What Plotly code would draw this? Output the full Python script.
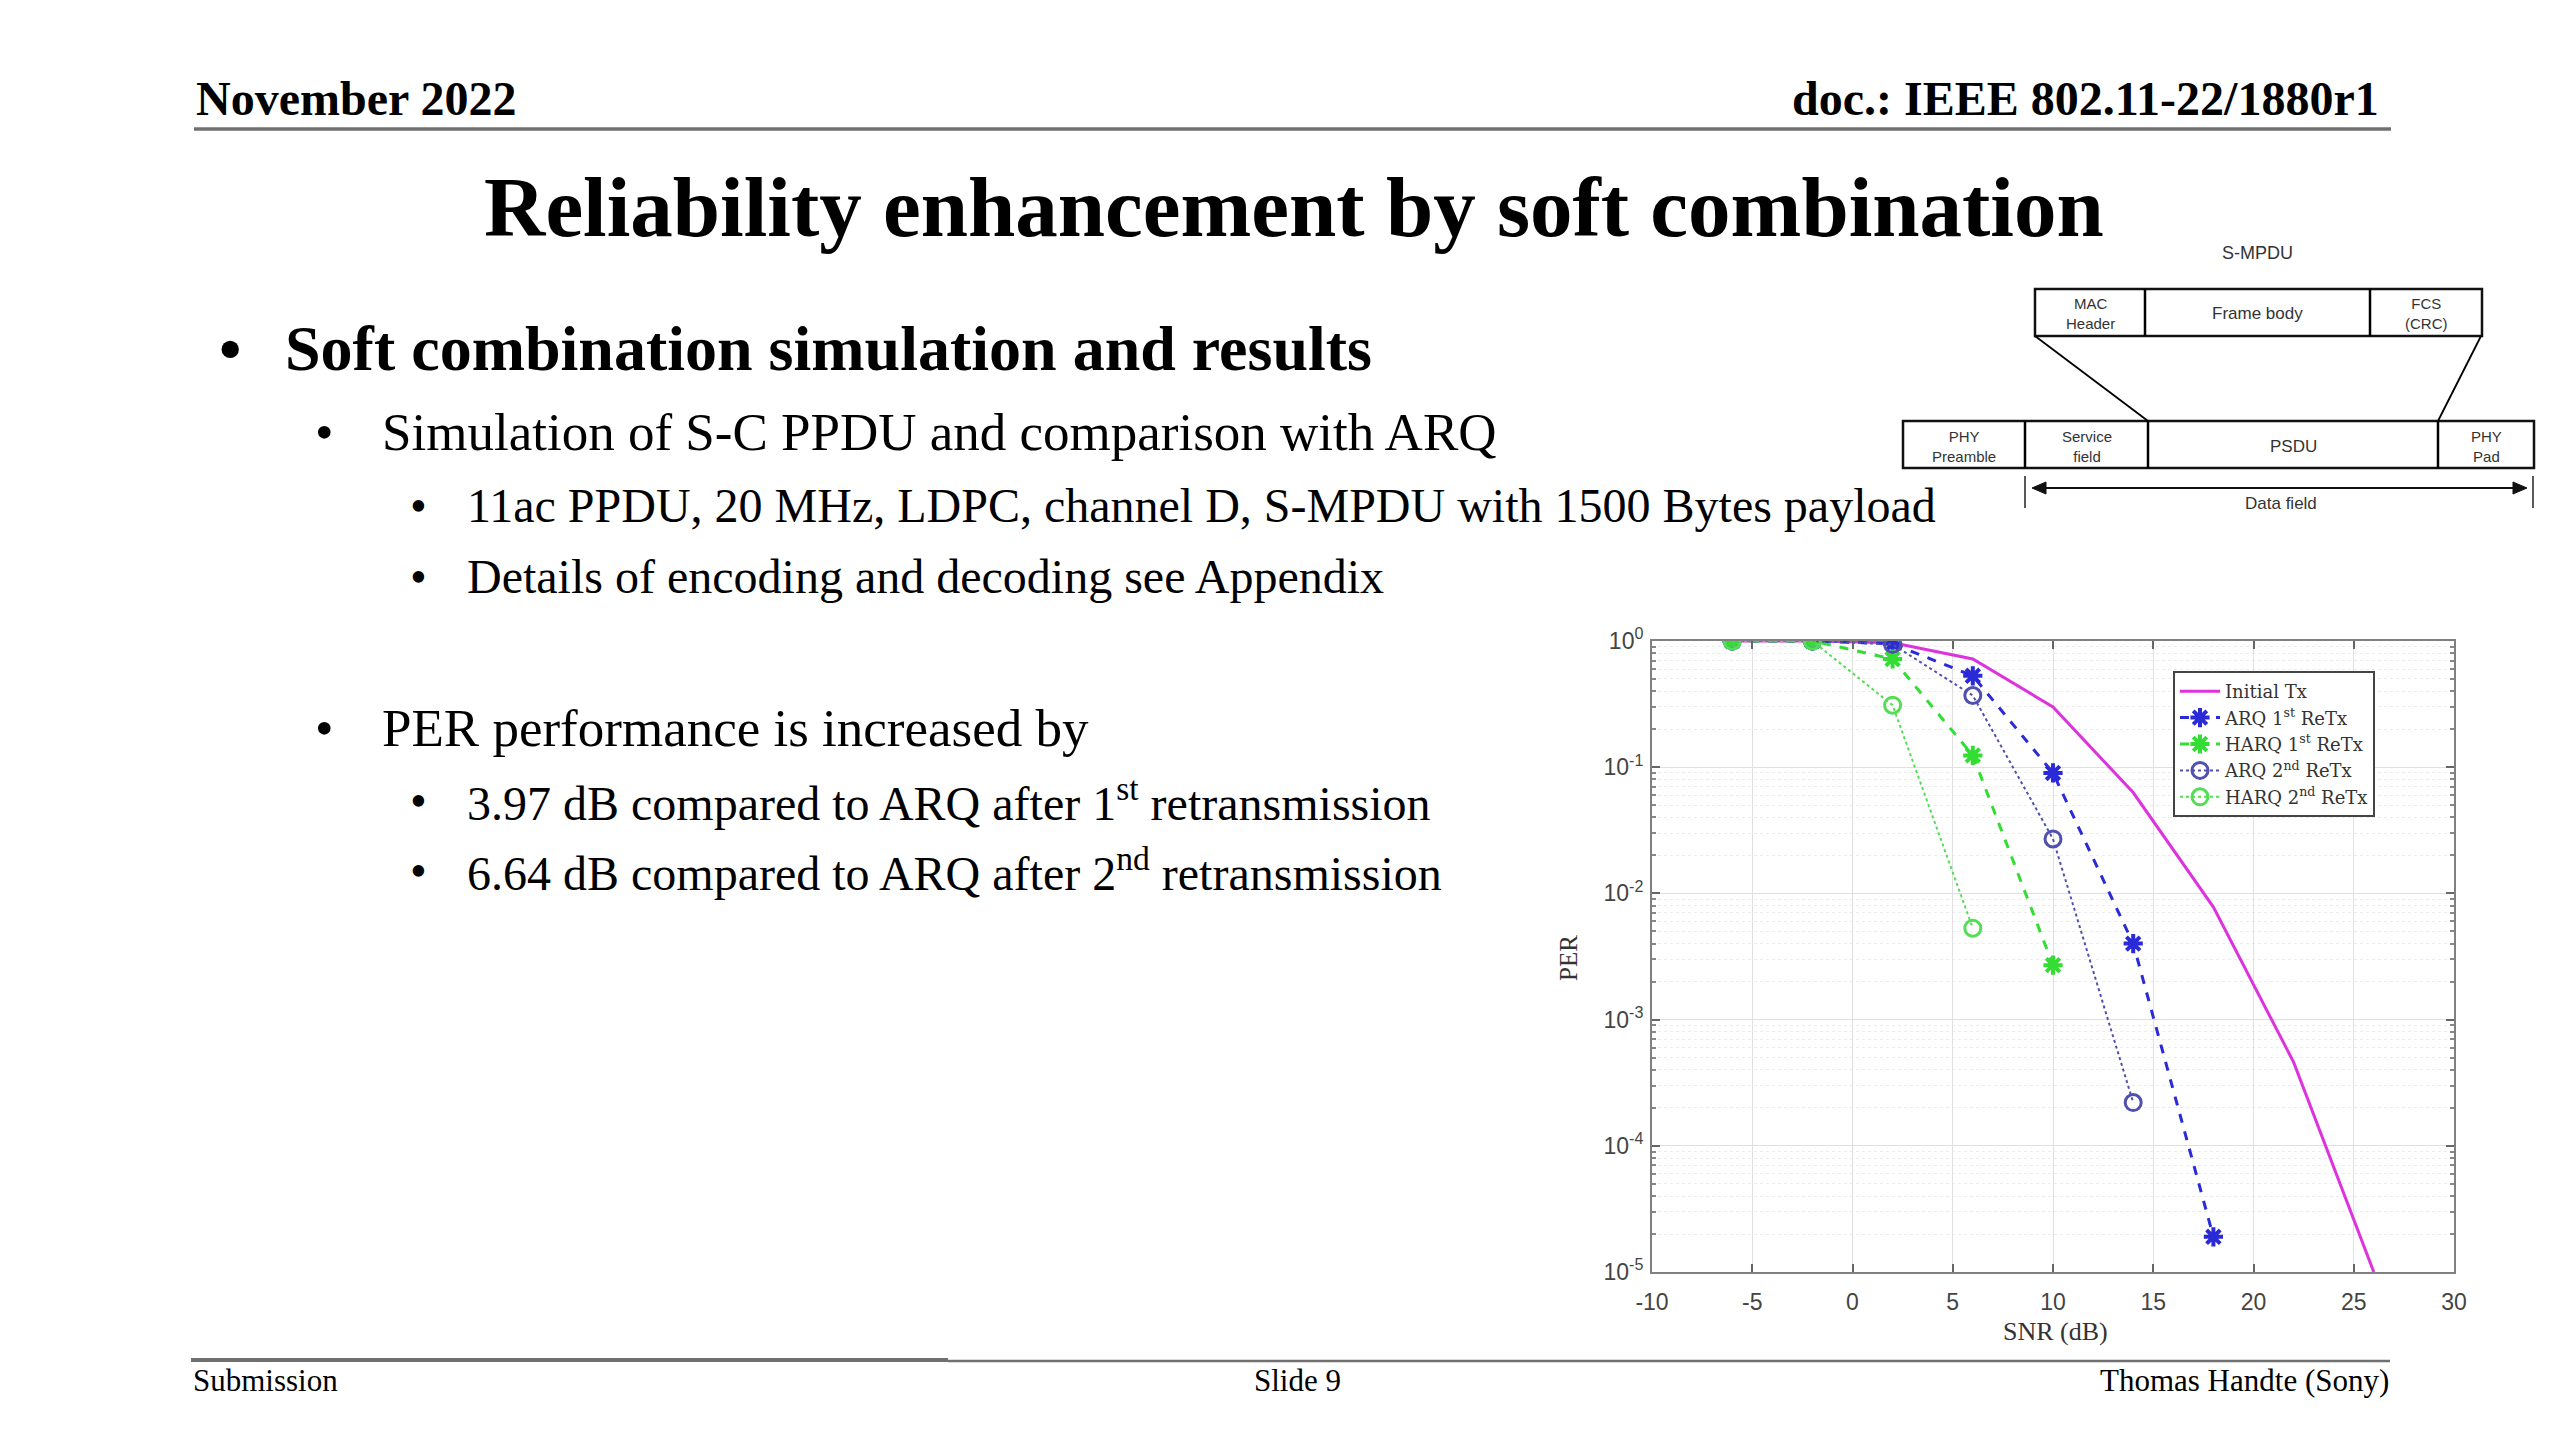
import plotly.graph_objects as go

# ---------------- data ----------------
snr_initial = [-6, -2, 2, 6, 10, 14, 18, 22, 26]
per_initial = [1.0, 1.0, 0.97, 0.72, 0.30, 0.063, 0.0078, 4.6e-4, 1.0e-5]

snr_arq1 = [-6, -2, 2, 6, 10, 14, 18]
per_arq1 = [1.0, 1.0, 0.95, 0.53, 0.09, 0.004, 1.9e-5]

snr_harq1 = [-6, -2, 2, 6, 10]
per_harq1 = [1.0, 1.0, 0.72, 0.124, 0.0027]

snr_arq2 = [-6, -2, 2, 6, 10, 14]
per_arq2 = [1.0, 1.0, 0.94, 0.37, 0.027, 2.2e-4]

snr_harq2 = [-6, -2, 2, 6]
per_harq2 = [1.0, 1.0, 0.31, 0.0053]

series_names = ["Initial Tx", "ARQ 1<sup>st</sup> ReTx", "HARQ 1<sup>st</sup> ReTx",
                "ARQ 2<sup>nd</sup> ReTx", "HARQ 2<sup>nd</sup> ReTx"]

x_ticks = [-10, -5, 0, 5, 10, 15, 20, 25, 30]
x_ticklabels = ["-10", "-5", "0", "5", "10", "15", "20", "25", "30"]
y_ticks = [1e-5, 1e-4, 1e-3, 1e-2, 1e-1, 1]
y_ticklabels = ["10<sup>-5</sup>", "10<sup>-4</sup>", "10<sup>-3</sup>",
                "10<sup>-2</sup>", "10<sup>-1</sup>", "10<sup>0</sup>"]

W, H = 2560, 1440
def px(x):
    return x / W
def py(y):
    return 1 - y / H

SERIF = "Liberation Serif, Times New Roman, serif"
SANS = "Liberation Sans, Arial, sans-serif"

fig = go.Figure()

fig.add_trace(go.Scatter(x=snr_initial, y=per_initial, name=series_names[0], mode="lines",
                         line=dict(color="#dd33dd", width=3)))
fig.add_trace(go.Scatter(x=snr_arq1, y=per_arq1, name=series_names[1], mode="lines+markers",
                         line=dict(color="#2a2ad6", width=3, dash="dash"),
                         marker=dict(symbol="asterisk-open", size=16,
                                     line=dict(color="#2a2ad6", width=4))))
fig.add_trace(go.Scatter(x=snr_harq1, y=per_harq1, name=series_names[2], mode="lines+markers",
                         line=dict(color="#33dd33", width=3, dash="dash"),
                         marker=dict(symbol="asterisk-open", size=16,
                                     line=dict(color="#33dd33", width=4))))
fig.add_trace(go.Scatter(x=snr_arq2, y=per_arq2, name=series_names[3], mode="lines+markers",
                         line=dict(color="#5050b0", width=2, dash="dot"),
                         marker=dict(symbol="circle-open", size=16,
                                     line=dict(color="#2a2ac0", width=3))))
fig.add_trace(go.Scatter(x=snr_harq2, y=per_harq2, name=series_names[4], mode="lines+markers",
                         line=dict(color="#55dd55", width=2, dash="dot"),
                         marker=dict(symbol="circle-open", size=16,
                                     line=dict(color="#33cc33", width=3))))

axis_common = dict(showline=True, linecolor="#808080", linewidth=2, mirror="allticks",
                   ticks="inside", ticklen=8, tickcolor="#666666", tickwidth=1.5,
                   showgrid=True, gridcolor="#e0e0e0", gridwidth=1, zeroline=False,
                   tickfont=dict(family=SANS, size=23, color="#444444"))

fig.update_xaxes(range=[-10, 30], tickvals=x_ticks, ticktext=x_ticklabels,
                 domain=[px(1652), px(2454)], ticklabelstandoff=8, **axis_common)
fig.update_yaxes(type="log", range=[-5, 0], tickvals=y_ticks, ticktext=y_ticklabels,
                 domain=[py(1272), py(641)], ticklabelstandoff=2,
                 minor=dict(tickvals=[m * 10 ** e for e in range(-5, 0) for m in range(2, 10)],
                            ticks="inside", ticklen=4, tickcolor="#888888",
                            showgrid=True, gridcolor="#ececec", griddash="dot"),
                 **axis_common)

fig.update_layout(
    autosize=True, margin=dict(l=0, r=0, t=0, b=0, autoexpand=False),
    paper_bgcolor="white", plot_bgcolor="white",
    showlegend=True,
    legend=dict(x=px(2173), y=py(671), xanchor="left", yanchor="top",
                bgcolor="white", bordercolor="#444444", borderwidth=2,
                font=dict(family="DejaVu Serif, serif", size=18, color="#333333"),
                tracegroupgap=0, itemwidth=40,
                entrywidthmode="pixels", entrywidth=205),
)

ann = []
def text(x, y, s, size, bold=False, xanchor="left", color="black", family=SERIF, angle=0):
    if bold:
        s = "<b>" + s + "</b>"
    ann.append(dict(x=px(x), y=py(y), xref="paper", yref="paper", text=s, showarrow=False,
                    xanchor=xanchor, yanchor="middle", textangle=angle,
                    font=dict(family=family, size=size, color=color)))

# header / title
text(194, 99, "November 2022", 48, bold=True)
text(2381, 99, "doc.: IEEE 802.11-22/1880r1", 48, bold=True, xanchor="right")
text(1294, 207, "Reliability enhancement by soft combination", 85, bold=True, xanchor="center")

# bullets
body = [
    (217, 283, 348, 64, True, "Soft combination simulation and results"),
    (313, 380, 432, 53, False, "Simulation of S-C PPDU and comparison with ARQ"),
    (408, 465, 506, 48, False, "11ac PPDU, 20 MHz, LDPC, channel D, S-MPDU with 1500 Bytes payload"),
    (408, 465, 576, 48, False, "Details of encoding and decoding see Appendix"),
    (313, 380, 728, 53, False, "PER performance is increased by"),
    (408, 465, 800, 48, False, "3.97 dB compared to ARQ after 1<sup>st</sup> retransmission"),
    (408, 465, 870, 48, False, "6.64 dB compared to ARQ after 2<sup>nd</sup> retransmission"),
]
for bx, tx, ty, sz, bd, s in body:
    text(bx, ty, "•", sz, bold=bd)
    text(tx, ty, s, sz, bold=bd)

# footer
text(191, 1380, "Submission", 31)
text(1297, 1380, "Slide 9", 31, xanchor="center")
text(2391, 1380, "Thomas Handte (Sony)", 31, xanchor="right")

# axis titles
text(1568, 958, "PER", 25, color="#333333", xanchor="center", angle=-90)
text(2055, 1331, "SNR (dB)", 26, color="#333333", xanchor="center")

# frame diagram text
DG = "#333333"
text(2257, 253, "S-MPDU", 18, family=SANS, color=DG, xanchor="center")
text(2090, 313, "MAC<br>Header", 15, family=SANS, color=DG, xanchor="center")
text(2257, 313, "Frame body", 17, family=SANS, color=DG, xanchor="center")
text(2426, 313, "FCS<br>(CRC)", 15, family=SANS, color=DG, xanchor="center")
text(1964, 446, "PHY<br>Preamble", 15, family=SANS, color=DG, xanchor="center")
text(2087, 446, "Service<br>field", 15, family=SANS, color=DG, xanchor="center")
text(2293, 446, "PSDU", 17, family=SANS, color=DG, xanchor="center")
text(2486, 446, "PHY<br>Pad", 15, family=SANS, color=DG, xanchor="center")
text(2281, 503, "Data field", 17, family=SANS, color=DG, xanchor="center")

fig.update_layout(annotations=ann)

shapes = []
def line(x0, y0, x1, y1, color="black", width=2.5):
    shapes.append(dict(type="line", xref="paper", yref="paper",
                       x0=px(x0), y0=py(y0), x1=px(x1), y1=py(y1),
                       line=dict(color=color, width=width)))
def rect(x0, y0, x1, y1, width=2.5):
    shapes.append(dict(type="rect", xref="paper", yref="paper",
                       x0=px(x0), y0=py(y0), x1=px(x1), y1=py(y1),
                       line=dict(color="#111111", width=width)))
def tri(pts):
    d = "M " + " L ".join(f"{px(a)} {py(b)}" for a, b in pts) + " Z"
    shapes.append(dict(type="path", xref="paper", yref="paper", path=d,
                       fillcolor="#111111", line=dict(color="#111111", width=1)))

# header & footer rules
line(194, 129, 2391, 129, color="#707070", width=3.5)
line(191, 1360, 948, 1360, color="#707070", width=4)
line(948, 1361, 2390, 1361, color="#707070", width=2.5)

# S-MPDU diagram
rect(2035, 289, 2482, 336)
line(2145, 289, 2145, 336)
line(2370, 289, 2370, 336)
rect(1903, 421, 2534, 468)
line(2025, 421, 2025, 468)
line(2148, 421, 2148, 468)
line(2438, 421, 2438, 468)
line(2035, 336, 2148, 421, width=1.8)
line(2481, 336, 2438, 421, width=1.8)
line(2025, 476, 2025, 508, color="#222222", width=1.5)
line(2533, 476, 2533, 508, color="#222222", width=1.5)
line(2040, 488, 2520, 488, color="#111111", width=2)
tri([(2032, 488), (2046, 482), (2046, 494)])
tri([(2527, 488), (2513, 482), (2513, 494)])

fig.update_layout(shapes=shapes)

fig.write_html(
    "out.html",
    default_width="100vw",
    default_height="100vh",
    config={"displayModeBar": False, "responsive": True},
    post_script=(
        "document.documentElement.style.margin='0';"
        "document.documentElement.style.overflow='hidden';"
        "document.body.style.margin='0';"
        "document.body.style.overflow='hidden';"
        "Plotly.Plots.resize(document.getElementById('{plot_id}'));"
    ),
)
